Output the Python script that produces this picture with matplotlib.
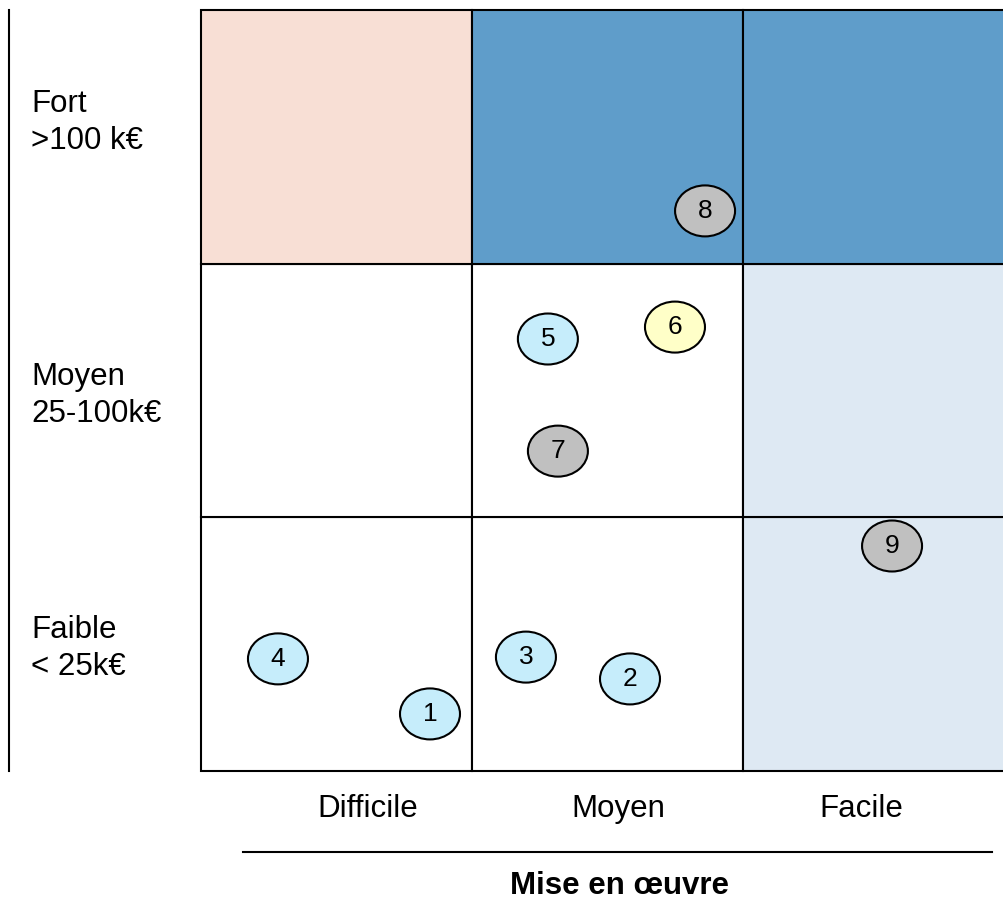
import matplotlib.pyplot as plt
from matplotlib.patches import Rectangle, Ellipse

plt.rcParams['font.family'] = ['Liberation Sans', 'DejaVu Sans']

W, H = 1004, 899

# grid: 3 columns (mise en oeuvre) x 3 rows (gain), row 0 = bottom
col_labels = ["Difficile", "Moyen", "Facile"]
row_labels = [("Faible", "< 25k€"), ("Moyen", "25-100k€"), ("Fort", ">100 k€")]
cell_colors = [
    ["white", "white", "#dee9f3"],
    ["white", "white", "#dee9f3"],
    ["#f8dfd5", "#5f9dca", "#5f9dca"],
]

# projects, positions in grid units
ids = [1, 2, 3, 4, 5, 6, 7, 8, 9]
px = [0.845, 1.583, 1.199, 0.284, 1.280, 1.749, 1.317, 1.860, 2.550]
py = [0.225, 0.363, 0.449, 0.442, 1.703, 1.750, 1.261, 2.208, 0.887]
kind = ["b", "b", "b", "b", "b", "y", "g", "g", "g"]
kind_color = {"b": "#c6edfb", "y": "#ffffc8", "g": "#c0c0c0"}

fig = plt.figure(figsize=(W / 100, H / 100), dpi=100)

# grid axes, in pixels: left 201, right 1014 (past edge), top 10, bottom 771
ax = fig.add_axes([201 / W, (H - 771) / H, 813 / W, 761 / H])
ax.set_xlim(0, 3)
ax.set_ylim(0, 3)
ax.axis("off")

for r in range(3):
    for c in range(3):
        ax.add_patch(Rectangle((c, r), 1, 1, facecolor=cell_colors[r][c],
                               edgecolor="black", lw=1.5, clip_on=False))

for i, x, y, k in zip(ids, px, py, kind):
    ax.add_patch(Ellipse((x, y), 60 / 271, 51 / 253.7, facecolor=kind_color[k],
                         edgecolor="black", lw=1.5, zorder=3))
    ax.text(x, y, str(i), ha="center", va="center", fontsize=19, zorder=4)


def fx(p):
    return p / W


def fy(p):
    return 1 - p / H


# row labels on the left
base = [(638, 675), (385, 422), (112, 149)]
for (l1, l2), (b1, b2) in zip(row_labels, base):
    fig.text(fx(31), fy(b1), l1, fontsize=22.5, va="baseline")
    fig.text(fx(31), fy(b2), l2, fontsize=22.5, va="baseline")

fig.add_artist(plt.Line2D([fx(9), fx(9)], [fy(10), fy(771)], color="black", lw=1.5))

# column labels under the grid
for lab, cx in zip(col_labels, [368, 618, 861]):
    fig.text(fx(cx), fy(817), lab, fontsize=22.5, ha="center", va="baseline")

fig.add_artist(plt.Line2D([fx(243), fx(992)], [fy(852), fy(852)], color="black", lw=1.5))
fig.text(fx(620), fy(894), "Mise en œuvre", fontsize=22.5, fontweight="bold",
         ha="center", va="baseline")

fig.savefig("out.png", dpi=100)
